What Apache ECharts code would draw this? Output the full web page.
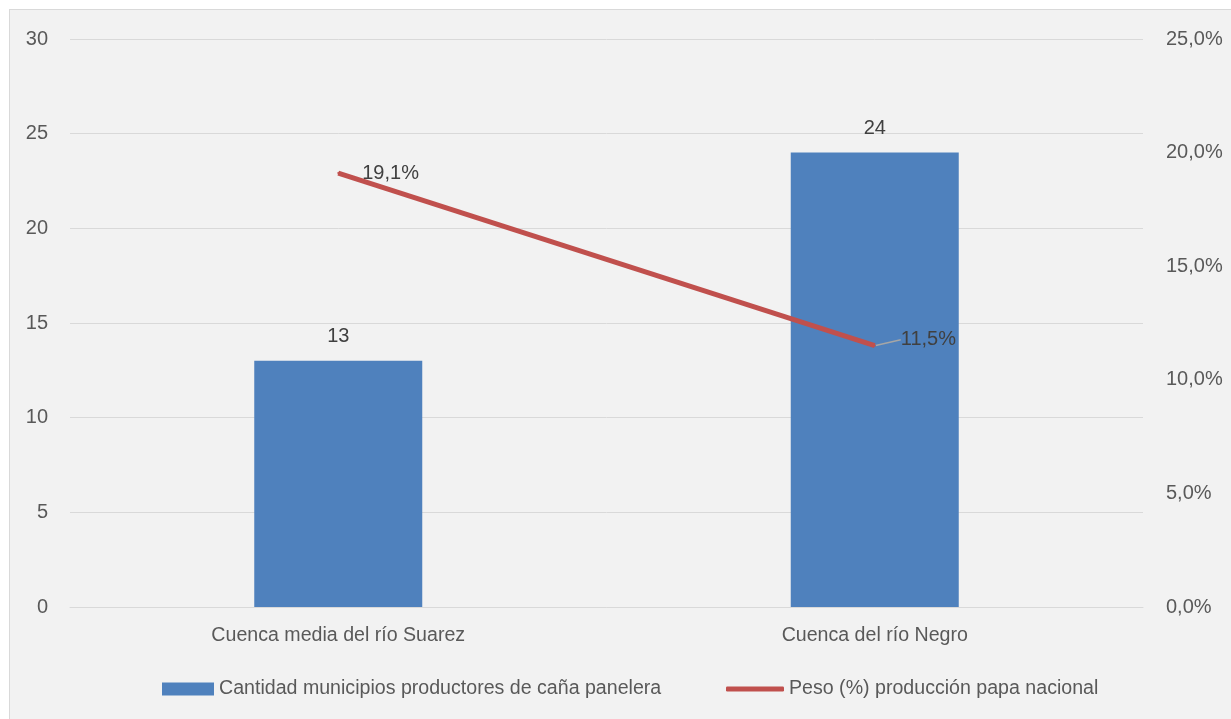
<!DOCTYPE html>
<html>
<head>
<meta charset="utf-8">
<script src="https://cdn.jsdelivr.net/npm/echarts@6/dist/echarts.min.js"></script>
<style>
  html, body { margin: 0; padding: 0; background: #fff; }
  #chart {
    position: absolute;
    left: 9px;
    top: 9px;
    width: 1230px;
    height: 720px;
    border: 1px solid #d9d9d9;
    background: #f2f2f2;
  }
</style>
</head>
<body>
<div id="chart"></div>
<script>
// datos
var categorias = ['Cuenca media del río Suarez', 'Cuenca del río Negro']
var municipios = [13, 24]
var pesoProduccion = [19.1, 11.5]
var nombreBarras = 'Cantidad municipios productores de caña panelera'
var nombreLinea = 'Peso (%) producción papa nacional'

var fuente = '"Liberation Sans Narrow", "Arial Narrow", "Liberation Sans", sans-serif'
var gris = '#595959'

var chart = echarts.init(document.getElementById('chart'))
chart.setOption({
  textStyle: { fontFamily: fuente, color: gris },
  grid: { left: 60, top: 29, width: 1073, height: 568, containLabel: false },
  legend: [{
    data: [{ name: nombreBarras, icon: 'rect' }],
    left: 147,
    top: 664,
    itemWidth: 52,
    itemHeight: 13,
    itemGap: 5,
    textStyle: { fontFamily: fuente, fontSize: 19.6, color: gris }
  }, {
    data: [{ name: nombreLinea, icon: 'roundRect' }],
    left: 711,
    top: 664,
    itemWidth: 58,
    itemHeight: 5,
    textStyle: { fontFamily: fuente, fontSize: 19.6, color: gris }
  }],
  xAxis: {
    type: 'category',
    data: categorias,
    axisTick: { show: false },
    axisLine: { lineStyle: { color: '#d9d9d9' } },
    axisLabel: { fontFamily: fuente, fontSize: 19.6, color: gris, margin: 19 }
  },
  yAxis: [{
    type: 'value',
    min: 0,
    max: 30,
    interval: 5,
    axisLabel: { fontFamily: fuente, fontSize: 20, color: gris, margin: 22 },
    splitLine: { lineStyle: { color: '#d9d9d9', width: 1 } }
  }, {
    type: 'value',
    min: 0,
    max: 25,
    interval: 5,
    axisLabel: {
      fontFamily: fuente, fontSize: 20, color: gris, margin: 23,
      formatter: function (v) { return v.toFixed(1).replace('.', ',') + '%' }
    },
    splitLine: { show: false }
  }],
  series: [{
    name: nombreBarras,
    type: 'bar',
    data: municipios,
    barWidth: 168,
    itemStyle: { color: '#4f81bd' },
    label: {
      show: true,
      position: 'top',
      distance: 14,
      fontFamily: fuente,
      fontSize: 20,
      color: '#404040'
    }
  }, {
    name: nombreLinea,
    type: 'line',
    yAxisIndex: 1,
    data: [
      { value: pesoProduccion[0], labelLine: { show: false } },
      { value: pesoProduccion[1] }
    ],
    symbol: 'circle',
    symbolSize: 2,
    lineStyle: { color: '#c0504d', width: 5 },
    itemStyle: { color: '#c0504d' },
    label: {
      show: true,
      position: 'right',
      distance: 23,
      fontFamily: fuente,
      fontSize: 20,
      color: '#404040',
      formatter: function (p) { return p.value.toFixed(1).replace('.', ',') + '%' }
    },
    labelLine: { show: true, lineStyle: { color: '#a6a6a6', width: 1.5 } },
    labelLayout: function (p) {
      if (p.dataIndex === 0) return {}
      return { dx: 2, dy: -6 }
    }
  }]
})
</script>
</body>
</html>
